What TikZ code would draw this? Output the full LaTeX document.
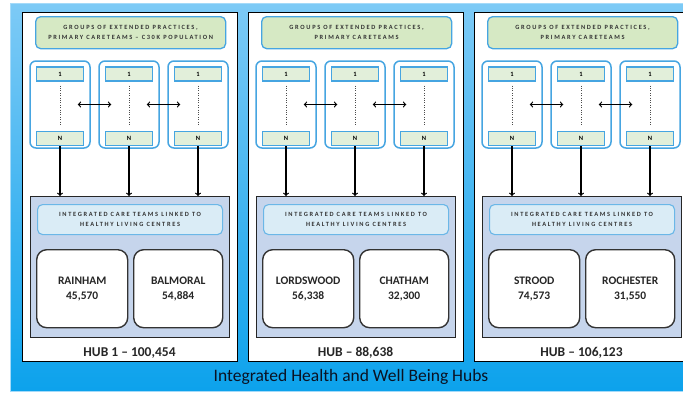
\documentclass[tikz,border=0pt]{standalone}
\usepackage{fontspec}
\setmainfont{Carlito}
\usepackage{xcolor}
\usetikzlibrary{arrows,positioning,calc}

\definecolor{skylight}{RGB}{125,202,246}
\definecolor{skydeep}{RGB}{12,162,236}
\definecolor{groupline}{RGB}{70,165,225}
\definecolor{cellfill}{RGB}{226,239,218}
\definecolor{topfill}{RGB}{214,233,196}
\definecolor{carefill}{RGB}{198,213,236}
\definecolor{headfill}{RGB}{218,236,246}
\definecolor{titletext}{RGB}{10,18,35}

\newcommand{\spacedsmall}{\fontsize{6.4}{9.5}\selectfont\bfseries\addfontfeature{LetterSpace=26}}

\begin{document}
\begin{tikzpicture}[x=1pt, y=-1pt,
    panel/.style={rectangle, draw=black, line width=1.3pt, fill=white, anchor=north west},
    topbox/.style={rectangle, draw=groupline, line width=1.3pt, fill=topfill, rounded corners=5pt, anchor=north west, minimum width=190pt, minimum height=32pt, align=center, font=\spacedsmall, text=black!80},
    group/.style={rectangle, draw=groupline, line width=1.5pt, fill=white, rounded corners=6pt, minimum width=60pt, minimum height=87pt},
    cell/.style={rectangle, draw=groupline, line width=1.1pt, fill=cellfill, minimum width=47pt, minimum height=14pt, inner sep=0pt, font=\fontsize{6.5}{7}\selectfont\bfseries},
    carebox/.style={rectangle, draw=black!85, line width=1.2pt, fill=carefill, anchor=north west, minimum width=199pt, minimum height=141pt},
    headbox/.style={rectangle, draw=groupline!80, line width=1.1pt, fill=headfill, rounded corners=5pt, anchor=north west, minimum width=185pt, minimum height=30pt, align=center, font=\spacedsmall, text=black!80},
    centre/.style={rectangle, draw=black!80, line width=1.4pt, fill=white, rounded corners=10pt, anchor=north west, minimum height=78pt, align=center, font=\fontsize{11.5}{15}\selectfont\bfseries, text=black!85},
    hublabel/.style={font=\fontsize{13.5}{15}\selectfont\bfseries, text=black!85},
    line/.style={draw, -to, line width=1.2pt},
    twoway/.style={draw, to-to, line width=1.2pt, shorten <=-13pt, shorten >=-13pt}]

    \useasboundingbox (0,0) rectangle (683,392);
    \clip (0,0) rectangle (683,392);

    % blue frame behind the hubs
    \node[rectangle, draw=skylight!70!white, line width=1pt, top color=skylight, bottom color=skydeep,
          anchor=north west, minimum width=680pt, minimum height=388pt] (frame) at (10,3) {};

    \foreach \i/\hx/\toptext/\ta/\tb/\hubtext in {
        1/22/{GROUPS OF EXTENDED PRACTICES,\\PRIMARY CARETEAMS -- C30K POPULATION}/{RAINHAM\\45,570}/{BALMORAL\\54,884}/{HUB 1 -- 100,454},
        2/248/{GROUPS OF EXTENDED PRACTICES,\\PRIMARY CARETEAMS}/{LORDSWOOD\\56,338}/{CHATHAM\\32,300}/{HUB -- 88,638},
        3/474/{GROUPS OF EXTENDED PRACTICES,\\PRIMARY CARETEAMS}/{STROOD\\74,573}/{ROCHESTER\\31,550}/{HUB -- 106,123}}{
    \begin{scope}[xshift=\hx]
        \node[panel, minimum width=215pt, minimum height=349pt] (hub\i) at (0,12) {};
        \node[topbox] (groups\i) at (13,16) {\toptext};

        % practices, 1 .. N
        \foreach \j/\cx in {1/38, 2/107, 3/176}{
            \node[group] (g\i\j) at (\cx,104.5) {};
            \node[cell] (one\i\j) at (\cx,74) {1};
            \node[cell] (n\i\j) at (\cx,138.5) {N};
            \draw[dotted, black!70, shorten <=4pt, shorten >=6pt] (one\i\j.south) -- (n\i\j.north);
        }
        \path[twoway] (g\i1.east) -- (g\i2.west);
        \path[twoway] (g\i2.east) -- (g\i3.west);

        % care teams
        \node[carebox] (care\i) at (8,196) {};
        \node[headbox] (head\i) at (15,204) {INTEGRATED CARE TEAMS LINKED TO\\HEALTHY LIVING CENTRES};
        \node[centre, minimum width=91pt] (ca\i) at (14,249) {\ta};
        \node[centre, minimum width=89pt] (cb\i) at (111,249) {\tb};
        \node[hublabel] (lab\i) at (107.5,353) {\hubtext};

        \foreach \j in {1,2,3}{
            \path[line] (n\i\j.south) -- (n\i\j.south |- care\i.north);
        }
    \end{scope}
    }

    \node[font=\fontsize{17.5}{20}\selectfont, text=titletext] (title) at (351,377) {Integrated Health and Well Being Hubs};
\end{tikzpicture}
\end{document}
